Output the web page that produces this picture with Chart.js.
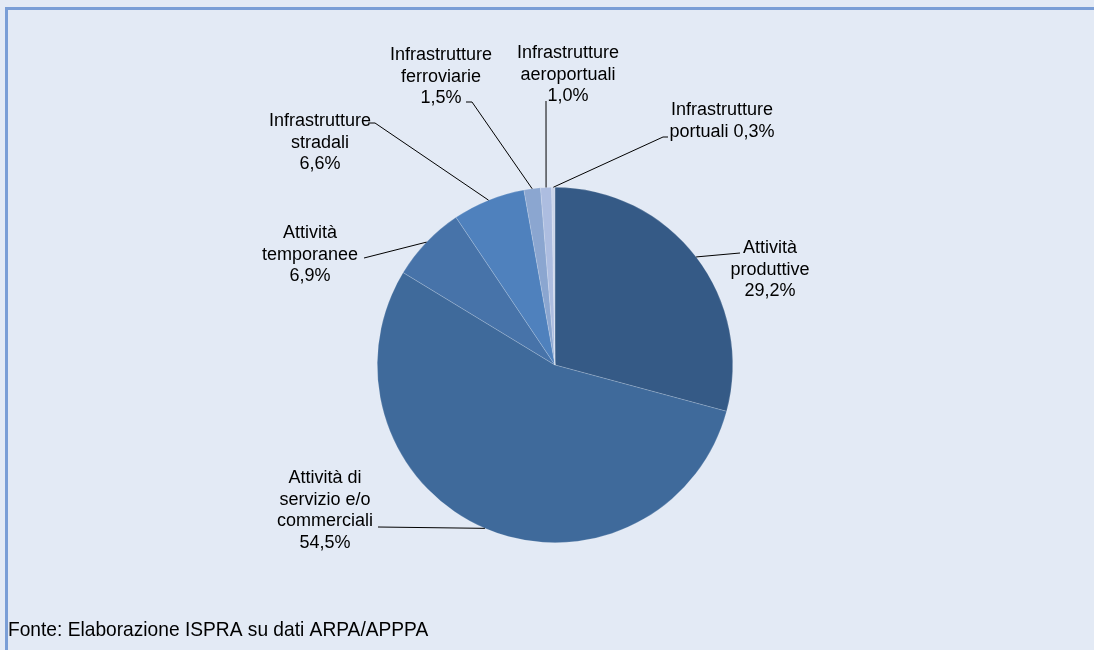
<!DOCTYPE html>
<html>
<head>
<meta charset="utf-8">
<script src="https://cdn.jsdelivr.net/npm/chart.js@4.4.0/dist/chart.umd.min.js"></script>
<style>
  html, body { margin:0; padding:0; background:#e3eaf5; }
  #wrap { position:relative; width:1094px; height:650px; overflow:hidden; }
  #frame { position:absolute; left:5px; top:7px; width:1200px; height:800px;
           border-left:3px solid #7a9ed6; border-top:3px solid #7a9ed6; }
  canvas { position:absolute; left:0; top:0; }
</style>
</head>
<body>
<div id="wrap">
  <div id="frame"></div>
  <canvas id="pie" width="1094" height="650"></canvas>
</div>
<script>
// categories and shares (%)
const categories = [
  ['Attività', 'produttive'],
  ['Attività di', 'servizio e/o', 'commerciali'],
  ['Attività', 'temporanee'],
  ['Infrastrutture', 'stradali'],
  ['Infrastrutture', 'ferroviarie'],
  ['Infrastrutture', 'aeroportuali'],
  ['Infrastrutture', 'portuali']
];
const shares = [29.2, 54.5, 6.9, 6.6, 1.5, 1.0, 0.3];
const sliceColors = ['#355a86', '#3f6a9b', '#4773a9', '#4f81bd', '#8ba6d0', '#adbde0', '#cbd5ea'];

// label text position (centre x, first baseline y), leader end (ax, ay), optional short hook end hx
const labelPos = [
  {x:770, y:253, ax:740, ay:253, hx:null, last:false},
  {x:325, y:483, ax:378, ay:527, hx:null, last:false},
  {x:310, y:238, ax:364, ay:258, hx:null, last:false},
  {x:320, y:126, ax:375, ay:123, hx:368, last:false},
  {x:441, y:60,  ax:472, ay:102, hx:466, last:false},
  {x:568, y:58,  ax:546, ay:101, hx:null, last:false},
  {x:722, y:115, ax:663, ay:137, hx:668, last:true}
];
const lineGap = 21.5;

const fmt = v => v.toFixed(1).replace('.', ',') + '%';

const labelPlugin = {
  id: 'sliceLabels',
  afterDatasetsDraw(chart) {
    const ctx = chart.ctx;
    const arcs = chart.getDatasetMeta(0).data;
    ctx.save();
    ctx.font = '18px "Liberation Sans", Arial, sans-serif';
    ctx.fillStyle = '#000';
    ctx.textAlign = 'center';
    ctx.textBaseline = 'alphabetic';
    arcs.forEach((arc, i) => {
      const p = labelPos[i];
      const mid = (arc.startAngle + arc.endAngle) / 2;
      const sx = arc.x + Math.cos(mid) * arc.outerRadius;
      const sy = arc.y + Math.sin(mid) * arc.outerRadius;
      ctx.strokeStyle = '#000';
      ctx.lineWidth = 1;
      ctx.beginPath();
      ctx.moveTo(sx, sy);
      ctx.lineTo(p.ax, p.ay);
      if (p.hx !== null) ctx.lineTo(p.hx, p.ay);
      ctx.stroke();
      let lines = categories[i].slice();
      if (p.last) {
        lines[lines.length - 1] += ' ' + fmt(shares[i]);
      } else {
        lines.push(fmt(shares[i]));
      }
      lines.forEach((t, k) => ctx.fillText(t, p.x, p.y + k * lineGap));
    });
    // source note (narrow look of the original)
    ctx.textAlign = 'left';
    ctx.font = '21px "Liberation Sans", Arial, sans-serif';
    ctx.translate(8, 636);
    ctx.scale(0.913, 1);
    ctx.fillText('Fonte: Elaborazione ISPRA su dati ARPA/APPPA', 0, 0);
    ctx.restore();
  }
};

new Chart(document.getElementById('pie'), {
  type: 'pie',
  data: {
    labels: categories.map(c => c.join(' ')),
    datasets: [{
      data: shares,
      backgroundColor: sliceColors,
      borderColor: 'rgba(255,255,255,0.35)',
      borderWidth: 0.5
    }]
  },
  options: {
    responsive: false,
    animation: false,
    rotation: 0,
    layout: { padding: { top: 187, bottom: 107, left: 377, right: 361 } },
    plugins: { legend: { display: false }, tooltip: { enabled: false } }
  },
  plugins: [labelPlugin]
});
</script>
</body>
</html>
